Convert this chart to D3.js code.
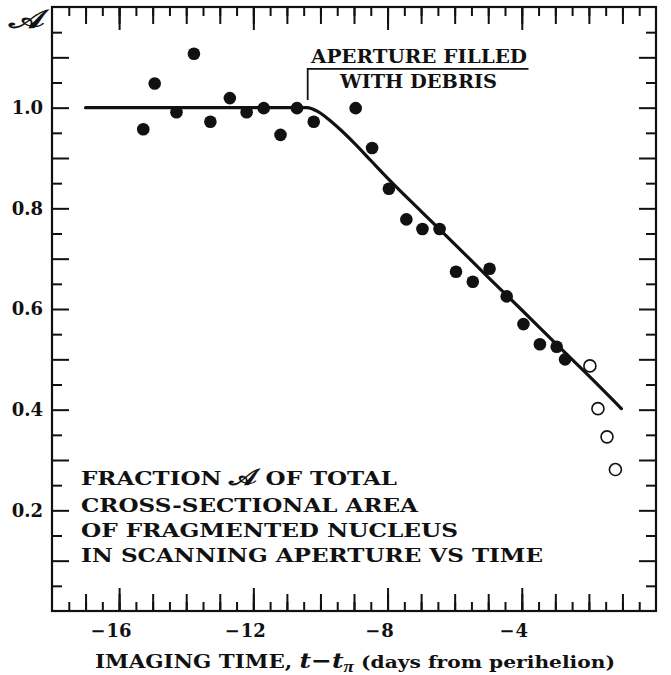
<!DOCTYPE html>
<html>
<head>
<meta charset="utf-8">
<script src="https://cdn.jsdelivr.net/npm/d3@7"></script>
<style>
  html, body { margin: 0; padding: 0; background: #fff; }
  svg { display: block; }
  text { font-family: "DejaVu Serif", "Liberation Serif", serif; font-weight: bold; fill: #111; }
</style>
</head>
<body>
<svg id="chart" width="671" height="675"></svg>
<script>
// Imaging time (days from perihelion) and fraction A of cross-sectional area
const filledDays = [-15.28, -14.94, -14.29, -13.77, -13.28, -12.70, -12.20, -11.69, -11.19, -10.70,
                    -10.20, -8.95, -8.46, -7.96, -7.44, -6.96, -6.45, -5.96, -5.46, -4.96,
                    -4.45, -3.95, -3.46, -2.96, -2.71];
const filledA    = [0.957, 1.048, 0.991, 1.107, 0.972, 1.019, 0.991, 0.999, 0.946, 0.999,
                    0.972, 0.999, 0.920, 0.839, 0.778, 0.759, 0.759, 0.674, 0.654, 0.680,
                    0.625, 0.570, 0.530, 0.525, 0.500];
const openDays = [-1.97, -1.73, -1.46, -1.21];
const openA    = [0.487, 0.402, 0.346, 0.281];

// Model curve: constant until the aperture fills with debris, then declining
const curveDays = [-17.0, -10.4, -10.1, -9.8, -9.5, -9.0, -8.5, -8.0, -7.0, -6.0, -5.0, -4.0, -3.0, -2.0, -1.03];
const curveA    = [1.000, 1.000, 0.993, 0.979, 0.962, 0.930, 0.895, 0.860, 0.794, 0.729, 0.663, 0.598, 0.532, 0.467, 0.402];

const xTickLabels = [-16, -12, -8, -4];
const yTickLabels = [0.2, 0.4, 0.6, 0.8, 1.0];

const SCRIPT_A = "\ud835\udc9c";

const svg = d3.select("#chart");
const L = 52, R = 656, T = 7, B = 611;
const x = d3.scaleLinear([-18, 0], [L, R]);
const y = d3.scaleLinear([0, 1.2], [B, T]);

// tick axes: inward ticks on all four sides
function tickAxis(axisFn, scale, values, size, g) {
  const ax = axisFn(scale).tickValues(values).tickSize(size).tickFormat("");
  g.call(ax);
  g.select(".domain").remove();
  g.selectAll(".tick line").attr("stroke", "#111").attr("stroke-width", 2);
}
const xHalf = d3.range(-17.5, 0, 0.5);
const xInt = d3.range(-17, 0, 1);
const yHalf = d3.range(0.05, 1.2, 0.1);
const yTenth = d3.range(0.1, 1.15, 0.1);

[[xHalf, 9], [xInt, 17], [xTickLabels, 23]].forEach(([vals, s]) => {
  tickAxis(d3.axisBottom, x, vals, -s, svg.append("g").attr("transform", `translate(0,${B})`));
  tickAxis(d3.axisTop, x, vals, -s, svg.append("g").attr("transform", `translate(0,${T})`));
});
[[yHalf, 10], [yTenth, 17]].forEach(([vals, s]) => {
  tickAxis(d3.axisLeft, y, vals, -s, svg.append("g").attr("transform", `translate(${L},0)`));
  tickAxis(d3.axisRight, y, vals, -s, svg.append("g").attr("transform", `translate(${R},0)`));
});

// frame
svg.append("rect").attr("x", L).attr("y", T).attr("width", R - L).attr("height", B - T)
  .attr("fill", "none").attr("stroke", "#111").attr("stroke-width", 2.2);

// y labels
svg.append("g").selectAll("text").data(yTickLabels).join("text")
  .attr("x", 43).attr("y", d => y(d)).attr("dy", "0.36em")
  .attr("text-anchor", "end").style("font-size", "18px")
  .text(d => d3.format(".1f")(d));

// x labels: digits centred on the tick, minus sign hanging to the left
const xl = svg.append("g");
xTickLabels.forEach(v => {
  const digits = String(Math.abs(v));
  const t = xl.append("text").attr("y", 637).style("font-size", "18px").text(digits);
  const w = t.node().getComputedTextLength();
  t.attr("x", x(v) - w / 2);
  xl.append("text").attr("y", 637).attr("x", x(v) - w / 2 - 1).attr("text-anchor", "end")
    .style("font-size", "18px").text("\u2212");
});

// axis title
const xt = svg.append("text").attr("x", 95).attr("y", 668).style("font-size", "18px")
  .attr("textLength", 520).attr("lengthAdjust", "spacingAndGlyphs");
xt.append("tspan").text("IMAGING TIME, ");
xt.append("tspan").style("font-style", "italic").style("font-size", "21px").text("t\u2212t");
xt.append("tspan").style("font-family", "'Liberation Serif', serif").style("font-style", "italic")
  .style("font-size", "16px").attr("dy", 4).text("\u03c0");
xt.append("tspan").attr("dy", -4).style("font-size", "17px").text(" (days from perihelion)");

// y axis symbol, scaled up to the size of the axis labels
svg.append("text").attr("text-anchor", "end")
  .attr("transform", "translate(44,28) scale(2.1,1.45)")
  .style("font-size", "18px").text(SCRIPT_A);

// curve
svg.append("path")
  .datum(d3.zip(curveDays, curveA))
  .attr("fill", "none").attr("stroke", "#111").attr("stroke-width", 3.2)
  .attr("stroke-linecap", "round")
  .attr("d", d3.line().x(d => x(d[0])).y(d => y(d[1])).curve(d3.curveMonotoneX));

// points
svg.append("g").selectAll("circle").data(d3.zip(filledDays, filledA)).join("circle")
  .attr("cx", d => x(d[0])).attr("cy", d => y(d[1])).attr("r", 6.3).attr("fill", "#111");
svg.append("g").selectAll("circle").data(d3.zip(openDays, openA)).join("circle")
  .attr("cx", d => x(d[0])).attr("cy", d => y(d[1])).attr("r", 6).attr("fill", "#fff")
  .attr("stroke", "#111").attr("stroke-width", 1.6);

// annotation bracket
const ann = svg.append("g");
ann.append("path").attr("fill", "none").attr("stroke", "#111").attr("stroke-width", 1.8)
  .attr("d", `M${x(-10.38)},${y(1.015)}V${y(1.077)}H${x(-3.8)}`);
ann.append("text").attr("x", 419).attr("y", 63).attr("text-anchor", "middle")
  .style("font-size", "18px").attr("textLength", 216).attr("lengthAdjust", "spacingAndGlyphs")
  .text("APERTURE FILLED");
ann.append("text").attr("x", 418.5).attr("y", 88).attr("text-anchor", "middle")
  .style("font-size", "18px").attr("textLength", 157).attr("lengthAdjust", "spacingAndGlyphs")
  .text("WITH DEBRIS");

// description block
const desc = [
  [["FRACTION ", SCRIPT_A, " OF TOTAL"], 485, 316],
  [["CROSS-SECTIONAL AREA"], 511.5, 337],
  [["OF FRAGMENTED NUCLEUS"], 537, 377],
  [["IN SCANNING APERTURE VS TIME"], 562, 462]
];
const dt = svg.append("g").selectAll("text").data(desc).join("text")
  .attr("x", 81).attr("y", d => d[1]).style("font-size", "18px")
  .attr("textLength", d => d[2]).attr("lengthAdjust", "spacingAndGlyphs");
dt.selectAll("tspan").data(d => d[0]).join("tspan")
  .style("font-size", s => s === SCRIPT_A ? "23px" : null)
  .text(s => s);
</script>
</body>
</html>
